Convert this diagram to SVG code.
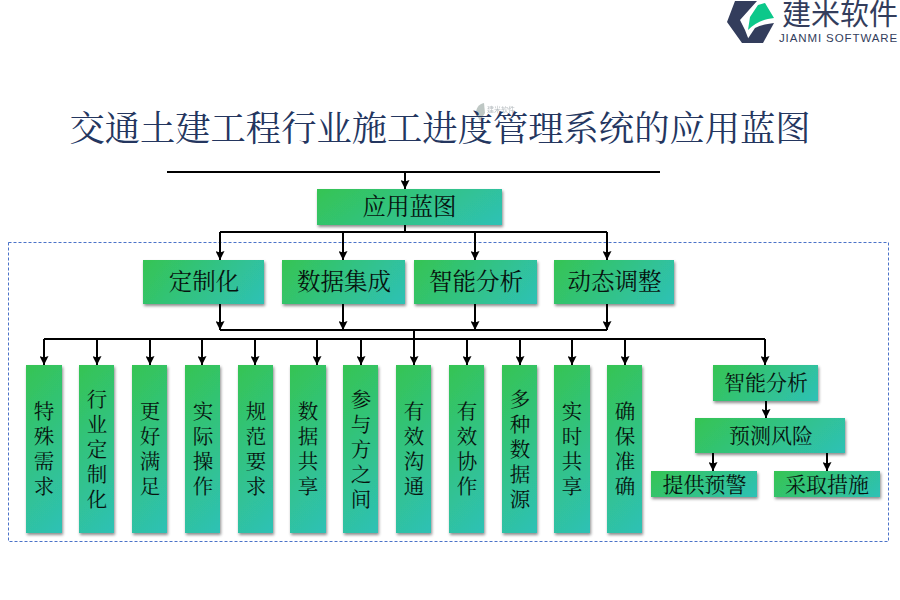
<svg xmlns="http://www.w3.org/2000/svg" width="900" height="600" viewBox="0 0 900 600">
<style>
text{font-family:"Noto Serif CJK SC","Liberation Serif","Noto Sans CJK SC",serif;fill:#07130f;text-anchor:middle}
.n{fill:url(#g);filter:url(#s)}
.p{fill:url(#gv);filter:url(#s)}
.c{fill:none;stroke:#000;stroke-width:2}
.t{font-size:23.500px}
.v{font-size:20.500px}
.m{font-size:21px}
</style>
<defs>
<linearGradient id="g" x1="0" y1="0" x2="1.190" y2=".340"><stop offset="0" stop-color="#35c453"/><stop offset="1" stop-color="#2ec1b6"/></linearGradient>
<linearGradient id="gv" x1="0" y1="0" x2=".241" y2="1.158"><stop offset="0" stop-color="#35c453"/><stop offset="1" stop-color="#2ec1b6"/></linearGradient>
<filter id="s" x="-20%" y="-20%" width="140%" height="140%"><feDropShadow dx="1" dy="2" stdDeviation="1.500" flood-color="#000" flood-opacity=".45"/></filter>
<marker id="a" markerWidth="10" markerHeight="9" refX="9" refY="4.500" orient="auto" markerUnits="userSpaceOnUse"><path d="M0 0L9 4.500L0 9L1.500 4.500Z" fill="#000"/></marker>
</defs>
<rect width="900" height="600" fill="#fff"/>
<g id="logo">
<path d="M735 1L727 22L742 43L750 43L745 30L740 20L757 1Z" fill="#333d5c"/>
<path d="M748 30L750 17L758 5L765 3L774 18C764 19 755 23 748 30Z" fill="#0cc88a"/>
<path d="M745 43L755 28C761 25 767 24 774 23L763 43Z" fill="#333d5c"/>
<text x="840" y="25" font-size="29" style="font-family:'Noto Sans CJK SC',sans-serif;fill:#333d5c">建米软件</text>
<text x="838.500" y="42" font-size="11.500" letter-spacing=".9" style="font-family:'Liberation Sans',sans-serif;fill:#333d5c">JIANMI SOFTWARE</text>
</g>
<g id="watermark" opacity=".55">
<path d="M476 113C476 108 479 104 484 103L485 113L480 121Z" fill="#8a9a94"/>
<text x="501" y="111.500" font-size="7" style="font-family:'Noto Sans CJK SC',sans-serif;fill:#7f8a90">建米软件</text>
</g>
<text id="title" x="440" y="141" font-size="35.300" style="fill:#24365f">交通土建工程行业施工进度管理系统的应用蓝图</text>
<g id="frame"><rect x="8.500" y="242.500" width="880" height="299" fill="none" stroke="#4a72c8" stroke-width="1" stroke-dasharray="3 2"/></g>
<g id="connectors" class="c">
<path d="M167 172H660"/>
<path d="M405 172V189" marker-end="url(#a)"/>
<path d="M405 225V232M220 232H607"/>
<path d="M220 232V260" marker-end="url(#a)"/>
<path d="M343 232V260" marker-end="url(#a)"/>
<path d="M475 232V260" marker-end="url(#a)"/>
<path d="M607 232V260" marker-end="url(#a)"/>
<path d="M220 304V330" marker-end="url(#a)"/>
<path d="M343 304V330" marker-end="url(#a)"/>
<path d="M475 304V330" marker-end="url(#a)"/>
<path d="M607 304V330" marker-end="url(#a)"/>
<path d="M220 330H607M414 330V339M44 339H765"/>
<path d="M44 339V365" marker-end="url(#a)"/>
<path d="M97 339V365" marker-end="url(#a)"/>
<path d="M150 339V365" marker-end="url(#a)"/>
<path d="M202 339V365" marker-end="url(#a)"/>
<path d="M255 339V365" marker-end="url(#a)"/>
<path d="M317 339V365" marker-end="url(#a)"/>
<path d="M361 339V365" marker-end="url(#a)"/>
<path d="M414 339V365" marker-end="url(#a)"/>
<path d="M467 339V365" marker-end="url(#a)"/>
<path d="M520 339V365" marker-end="url(#a)"/>
<path d="M572 339V365" marker-end="url(#a)"/>
<path d="M625 339V365" marker-end="url(#a)"/>
<path d="M765 339V365" marker-end="url(#a)"/>
<path d="M766 401V418" marker-end="url(#a)"/>
<path d="M713 453V471" marker-end="url(#a)"/>
<path d="M827 453V471" marker-end="url(#a)"/>
</g>
<g id="n0"><rect class="n" x="317" y="189" width="185" height="36"/><text class="t" x="409.500" y="215">应用蓝图</text></g>
<g id="n1"><rect class="n" x="143" y="260" width="121" height="44"/><text class="t" x="204" y="290">定制化</text></g>
<g id="n2"><rect class="n" x="282" y="260" width="123" height="44"/><text class="t" x="344" y="290">数据集成</text></g>
<g id="n3"><rect class="n" x="414" y="260" width="123" height="44"/><text class="t" x="476" y="290">智能分析</text></g>
<g id="n4"><rect class="n" x="554" y="260" width="120" height="44"/><text class="t" x="614.500" y="290">动态调整</text></g>
<g id="v1"><rect class="p" x="26" y="365" width="36" height="168"/><text class="v"><tspan x="44" y="419">特</tspan><tspan x="44" y="444">殊</tspan><tspan x="44" y="469">需</tspan><tspan x="44" y="494">求</tspan></text></g>
<g id="v2"><rect class="p" x="79" y="365" width="35" height="168"/><text class="v"><tspan x="97" y="407">行</tspan><tspan x="97" y="432">业</tspan><tspan x="97" y="457">定</tspan><tspan x="97" y="482">制</tspan><tspan x="97" y="507">化</tspan></text></g>
<g id="v3"><rect class="p" x="132" y="365" width="35" height="168"/><text class="v"><tspan x="150" y="419">更</tspan><tspan x="150" y="444">好</tspan><tspan x="150" y="469">满</tspan><tspan x="150" y="494">足</tspan></text></g>
<g id="v4"><rect class="p" x="185" y="365" width="35" height="168"/><text class="v"><tspan x="203" y="419">实</tspan><tspan x="203" y="444">际</tspan><tspan x="203" y="469">操</tspan><tspan x="203" y="494">作</tspan></text></g>
<g id="v5"><rect class="p" x="238" y="365" width="35" height="168"/><text class="v"><tspan x="256" y="419">规</tspan><tspan x="256" y="444">范</tspan><tspan x="256" y="469">要</tspan><tspan x="256" y="494">求</tspan></text></g>
<g id="v6"><rect class="p" x="290" y="365" width="36" height="168"/><text class="v"><tspan x="308" y="419">数</tspan><tspan x="308" y="444">据</tspan><tspan x="308" y="469">共</tspan><tspan x="308" y="494">享</tspan></text></g>
<g id="v7"><rect class="p" x="343" y="365" width="35" height="168"/><text class="v"><tspan x="361" y="407">参</tspan><tspan x="361" y="432">与</tspan><tspan x="361" y="457">方</tspan><tspan x="361" y="482">之</tspan><tspan x="361" y="507">间</tspan></text></g>
<g id="v8"><rect class="p" x="396" y="365" width="35" height="168"/><text class="v"><tspan x="414" y="419">有</tspan><tspan x="414" y="444">效</tspan><tspan x="414" y="469">沟</tspan><tspan x="414" y="494">通</tspan></text></g>
<g id="v9"><rect class="p" x="449" y="365" width="35" height="168"/><text class="v"><tspan x="467" y="419">有</tspan><tspan x="467" y="444">效</tspan><tspan x="467" y="469">协</tspan><tspan x="467" y="494">作</tspan></text></g>
<g id="v10"><rect class="p" x="502" y="365" width="35" height="168"/><text class="v"><tspan x="520" y="407">多</tspan><tspan x="520" y="432">种</tspan><tspan x="520" y="457">数</tspan><tspan x="520" y="482">据</tspan><tspan x="520" y="507">源</tspan></text></g>
<g id="v11"><rect class="p" x="554" y="365" width="36" height="168"/><text class="v"><tspan x="572" y="419">实</tspan><tspan x="572" y="444">时</tspan><tspan x="572" y="469">共</tspan><tspan x="572" y="494">享</tspan></text></g>
<g id="v12"><rect class="p" x="607" y="365" width="35" height="168"/><text class="v"><tspan x="625" y="419">确</tspan><tspan x="625" y="444">保</tspan><tspan x="625" y="469">准</tspan><tspan x="625" y="494">确</tspan></text></g>
<g id="r1"><rect class="n" x="713" y="365" width="105" height="36"/><text class="m" x="766" y="390">智能分析</text></g>
<g id="r2"><rect class="n" x="695" y="418" width="150" height="35"/><text class="m" x="771" y="443">预测风险</text></g>
<g id="r3"><rect class="n" x="651" y="471" width="106" height="26"/><text class="m" x="704.500" y="491.500">提供预警</text></g>
<g id="r4"><rect class="n" x="774" y="471" width="106" height="26"/><text class="m" x="827" y="491.500">采取措施</text></g>
</svg>
